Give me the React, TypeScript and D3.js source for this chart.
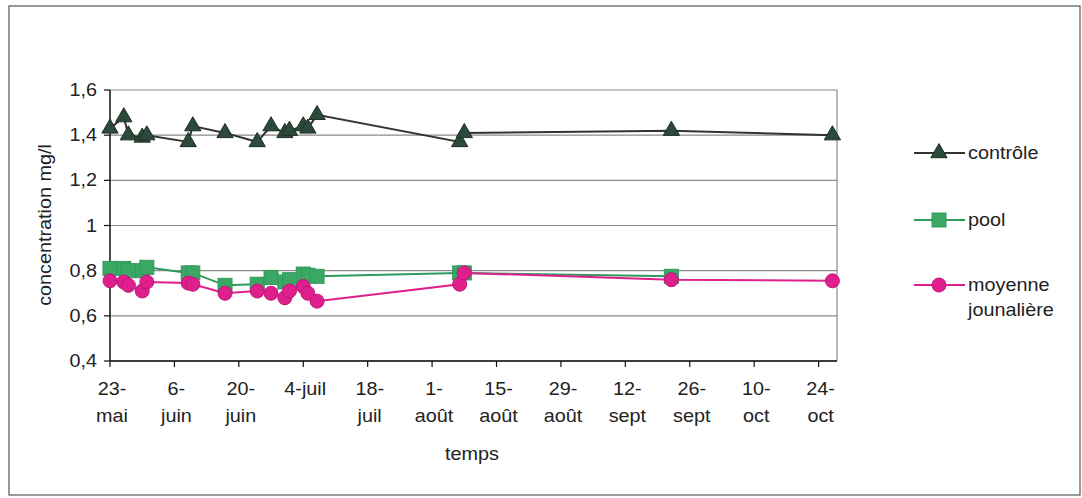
import React from "react";
import * as d3 from "d3";

const dates = [
  "2005-05-23", "2005-05-26", "2005-05-27", "2005-05-30", "2005-05-31",
  "2005-06-09", "2005-06-10", "2005-06-17", "2005-06-24", "2005-06-27",
  "2005-06-30", "2005-07-01", "2005-07-04", "2005-07-05", "2005-07-07",
  "2005-08-07", "2005-08-08", "2005-09-22", "2005-10-27",
];
const controle = [1.43, 1.48, 1.40, 1.39, 1.40, 1.37, 1.44, 1.41, 1.37, 1.44, 1.41, 1.42, 1.44, 1.43, 1.49, 1.37, 1.41, 1.42, 1.40];
const pool: (number | null)[] = [0.81, 0.81, 0.80, 0.80, 0.815, 0.79, 0.79, 0.735, 0.74, 0.77, 0.75, 0.76, 0.785, 0.78, 0.775, 0.79, 0.79, 0.775, null];
const moyenne = [0.755, 0.75, 0.735, 0.71, 0.75, 0.745, 0.74, 0.70, 0.71, 0.70, 0.68, 0.71, 0.73, 0.70, 0.665, 0.74, 0.79, 0.76, 0.755];

const yTicks = [0.4, 0.6, 0.8, 1.0, 1.2, 1.4, 1.6];
const xTickDates = [
  "2005-05-23", "2005-06-06", "2005-06-20", "2005-07-04", "2005-07-18", "2005-08-01",
  "2005-08-15", "2005-08-29", "2005-09-12", "2005-09-26", "2005-10-10", "2005-10-24",
];
const xTickLabels: string[][] = [
  ["23-", "mai"], ["6-", "juin"], ["20-", "juin"], ["4-juil"], ["18-", "juil"], ["1-", "août"],
  ["15-", "août"], ["29-", "août"], ["12-", "sept"], ["26-", "sept"], ["10-", "oct"], ["24-", "oct"],
];
const xDomain = ["2005-05-23", "2005-10-28"];

const FONT = "'Liberation Sans', Arial, sans-serif";
const C_CTRL_LINE = "#333333";
const C_CTRL_MARK = "#2c4a3a";
const C_POOL_LINE = "#2f9a5a";
const C_POOL_MARK = "#3aa864";
const C_MOY = "#df1f8c";

const parse = d3.timeParse("%Y-%m-%d");

function T({ x, y, children, anchor = "middle", size = 18, rotate = 0 }: any) {
  return (
    <text
      transform={`translate(${x},${y}) rotate(${rotate}) scale(1.1,1)`}
      textAnchor={anchor}
      fontFamily={FONT}
      fontSize={size}
      fill="#222"
    >
      {children}
    </text>
  );
}

export default function App() {
  const left = 110, right = 837, top = 90, bottom = 361;
  const x = d3.scaleTime().domain(xDomain.map((d) => parse(d)!)).range([left, right]);
  const y = d3.scaleLinear().domain([0.4, 1.6]).range([bottom, top]);
  const pts = dates.map((d) => parse(d)!);

  const mk = (vals: (number | null)[]) =>
    d3
      .line<number | null>()
      .defined((v) => v != null)
      .x((_, i) => x(pts[i]))
      .y((v) => y(v as number))(vals) || "";

  const tri = d3.symbol().type(d3.symbolTriangle).size(115)() || "";
  const fmt = (v: number) => (Number.isInteger(v) ? String(v) : v.toFixed(1).replace(".", ","));

  return (
    <svg width={1082} height={498} style={{ position: "absolute", left: 0, top: 0, background: "#fff" }}>
      <rect x={9} y={6} width={1071} height={489} fill="#fff" stroke="#555" strokeWidth={1.2} />
      {yTicks.map((t) => (
        <line key={t} x1={left} x2={right} y1={y(t)} y2={y(t)} stroke="#8a8a8a" strokeWidth={1.2} />
      ))}
      <line x1={right} x2={right} y1={top} y2={bottom} stroke="#8a8a8a" strokeWidth={1.2} />
      <line x1={left} x2={left} y1={top} y2={bottom} stroke="#111" strokeWidth={1.5} />
      {yTicks.map((t) => (
        <g key={"yt" + t}>
          <line x1={left - 6} x2={left} y1={y(t)} y2={y(t)} stroke="#111" strokeWidth={1.2} />
          <T x={left - 13} y={y(t) + 6} anchor="end">{fmt(t)}</T>
        </g>
      ))}
      <line x1={left} x2={right} y1={bottom} y2={bottom} stroke="#111" strokeWidth={1.5} />
      {xTickDates.map((d, i) => {
        const xp = x(parse(d)!);
        return (
          <g key={d}>
            <line x1={xp} x2={xp} y1={bottom} y2={bottom + 6} stroke="#111" strokeWidth={1.2} />
            {xTickLabels[i].map((s, j) => (
              <T key={j} x={xp + 2} y={395 + j * 27}>{s}</T>
            ))}
          </g>
        );
      })}
      <T x={472} y={460}>temps</T>
      <T x={51} y={225} rotate={-90}>concentration mg/l</T>

      <path d={mk(controle)} fill="none" stroke={C_CTRL_LINE} strokeWidth={2} />
      <path d={mk(pool)} fill="none" stroke={C_POOL_LINE} strokeWidth={2} />
      <path d={mk(moyenne)} fill="none" stroke={C_MOY} strokeWidth={2} />

      {controle.map((v, i) => (
        <path key={"c" + i} d={tri} transform={`translate(${x(pts[i])},${y(v)})`} fill={C_CTRL_MARK} stroke="#1d2e25" strokeWidth={1} />
      ))}
      {pool.map((v, i) =>
        v == null ? null : (
          <rect key={"p" + i} x={x(pts[i]) - 7} y={y(v) - 7} width={14} height={14} fill={C_POOL_MARK} stroke={C_POOL_LINE} strokeWidth={1} />
        )
      )}
      {moyenne.map((v, i) => (
        <circle key={"m" + i} cx={x(pts[i])} cy={y(v)} r={7} fill={C_MOY} stroke="#c0157a" strokeWidth={1} />
      ))}

      <line x1={914} x2={965} y1={153} y2={153} stroke={C_CTRL_LINE} strokeWidth={2} />
      <path d={tri} transform="translate(939,153)" fill={C_CTRL_MARK} stroke="#1d2e25" strokeWidth={1} />
      <T x={968} y={159} anchor="start">contrôle</T>

      <line x1={914} x2={965} y1={220} y2={220} stroke={C_POOL_LINE} strokeWidth={2} />
      <rect x={932} y={213} width={14} height={14} fill={C_POOL_MARK} stroke={C_POOL_LINE} />
      <T x={968} y={226} anchor="start">pool</T>

      <line x1={914} x2={965} y1={285} y2={285} stroke={C_MOY} strokeWidth={2} />
      <circle cx={939} cy={285} r={7} fill={C_MOY} stroke="#c0157a" />
      <T x={968} y={291} anchor="start">moyenne</T>
      <T x={968} y={316} anchor="start">jounalière</T>
    </svg>
  );
}
